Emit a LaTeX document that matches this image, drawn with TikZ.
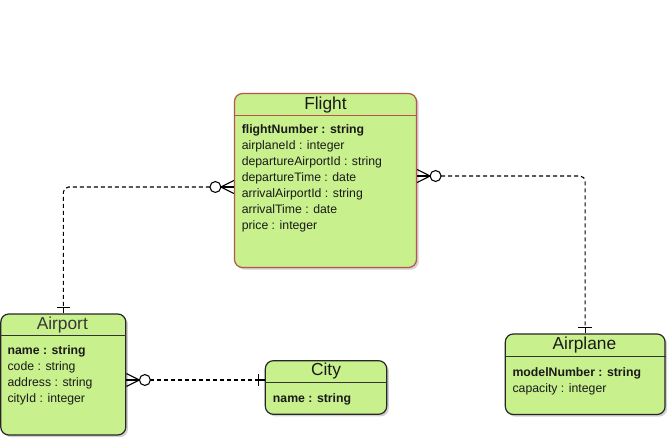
\documentclass[tikz,border=0pt]{standalone}
\usepackage{fontspec}
\setmainfont{Liberation Sans}
\usetikzlibrary{calc,shadows}
\definecolor{entfill}{HTML}{C8F08C}
\definecolor{flightborder}{HTML}{B85450}
\definecolor{txt}{HTML}{1A1A1A}
\begin{document}
\begin{tikzpicture}[x=0.75pt,y=-0.75pt,
  entity/.style={draw=black!85, fill=entfill, rounded corners=6pt, line width=0.9pt,
    drop shadow={shadow xshift=1.6pt,shadow yshift=-1.6pt,opacity=0.3,fill=black!60},
    inner sep=0pt},
  etitle/.style={anchor=base, inner sep=0pt, font=\fontsize{13}{15}\selectfont, text=txt},
  attr/.style={anchor=base west, inner sep=0pt, font=\fontsize{9.2}{11}\selectfont, text=txt},
  attrb/.style={attr, font=\fontsize{9.2}{11}\selectfont\bfseries},
  sep/.style={line width=0.8pt, draw=black!80},
  rel/.style={line width=0.8pt, dash pattern=on 3pt off 2.25pt, rounded corners=4pt},
  foot/.style={line width=0.8pt},
  ring/.style={line width=0.8pt, fill=white}
]
\useasboundingbox (0,0) rectangle (669,439);

% ---------- entities ----------
\node[entity, draw=flightborder, minimum width=136.5pt, minimum height=130.5pt] (flight) at (325.5,180.5) {};
\node[entity, minimum width=93.75pt, minimum height=90.75pt] (airport) at (63.3,374.5) {};
\node[entity, minimum width=91pt, minimum height=40.2pt] (city) at (326,387.5) {};
\node[entity, minimum width=119.8pt, minimum height=60.4pt] (airplane) at (585.2,374.25) {};

% header separators
\draw[sep, draw=flightborder, line width=0.7pt] (flight.west |- 0,115) -- (flight.east |- 0,115);
\draw[sep] (airport.west |- 0,335.7) -- (airport.east |- 0,335.7);
\draw[sep] (city.west |- 0,382.3) -- (city.east |- 0,382.3);
\draw[sep] (airplane.west |- 0,356.7) -- (airplane.east |- 0,356.7);

% titles
\node[etitle] (flightT) at (325.5,109) {Flight};
\node[etitle, text=black!78] (airportT) at (62.3,329.3) {Airport};
\node[etitle] (cityT) at (326,375.7) {City};
\node[etitle] (airplaneT) at (584.4,349) {Airplane};

% attributes
\node[attrb] (fl1) at (241.5,133.6) {flightNumber : string};
\node[attr]  (fl2) at (241.5,149.6) {airplaneId : integer};
\node[attr]  (fl3) at (241.5,165.6) {departureAirportId : string};
\node[attr]  (fl4) at (241.5,181.6) {departureTime : date};
\node[attr]  (fl5) at (241.5,197.6) {arrivalAirportId : string};
\node[attr]  (fl6) at (241.5,213.6) {arrivalTime : date};
\node[attr]  (fl7) at (241.5,229.6) {price : integer};

\node[attrb] (ap1) at (7.3,354.3) {name : string};
\node[attr]  (ap2) at (7.3,370.3) {code : string};
\node[attr]  (ap3) at (7.3,386.3) {address : string};
\node[attr]  (ap4) at (7.3,402.3) {cityId : integer};

\node[attrb] (ci1) at (272.7,402) {name : string};

\node[attrb] (pl1) at (512.3,376) {modelNumber : string};
\node[attr]  (pl2) at (512.3,392) {capacity : integer};

% ---------- relation Flight (many) -- Airport (one) ----------
\coordinate (fa) at ($(flight.west)+(0,6.5)$);
\coordinate (faP) at ($(fa)+(-13,0)$);
\coordinate (faO) at ($(fa)+(-18.5,0)$);
\draw[rel] ($(faO)+(-5.5,0)$) -| ($(airport.north)+(0,-6)$);
\draw[foot] ($(airport.north)+(0,-6)$) -- (airport.north);
\draw[foot] ($(airport.north)+(-6.5,-6)$) -- ($(airport.north)+(6.5,-6)$);
\draw[foot] ($(fa)+(0,-6.5)$) -- (faP) -- ($(fa)+(0,6.5)$);
\draw[foot] (fa) -- (faP);
\draw[ring] (faO) circle[radius=4.1pt];

% ---------- relation Flight (many) -- Airplane (one) ----------
\coordinate (fb) at ($(flight.east)+(0,-4.5)$);
\coordinate (fbP) at ($(fb)+(13,0)$);
\coordinate (fbO) at ($(fb)+(18.5,0)$);
\draw[rel] ($(fbO)+(5.5,0)$) -| ($(airplane.north)+(0,-6)$);
\draw[foot] ($(airplane.north)+(0,-6)$) -- (airplane.north);
\draw[foot] ($(airplane.north)+(-7,-6)$) -- ($(airplane.north)+(7,-6)$);
\draw[foot] ($(fb)+(0,-6.5)$) -- (fbP) -- ($(fb)+(0,6.5)$);
\draw[foot] (fb) -- (fbP);
\draw[ring] (fbO) circle[radius=4.1pt];

% ---------- relation Airport (many) -- City (one) ----------
\coordinate (ac) at ($(airport.east)+(0,5.5)$);
\coordinate (acP) at ($(ac)+(13,0)$);
\coordinate (acO) at ($(ac)+(18.5,0)$);
\coordinate (ce) at (acO -| city.west);
\draw[rel] ($(acO)+(5.5,0)$) -- ($(ce)+(-6,0)$);
\draw[foot] ($(ce)+(-6,0)$) -- (ce);
\draw[foot] ($(ce)+(-6,-6)$) -- ($(ce)+(-6,6)$);
\draw[foot] ($(ac)+(0,-6.5)$) -- (acP) -- ($(ac)+(0,6.5)$);
\draw[foot] (ac) -- (acP);
\draw[ring] (acO) circle[radius=4.1pt];
\end{tikzpicture}
\end{document}
